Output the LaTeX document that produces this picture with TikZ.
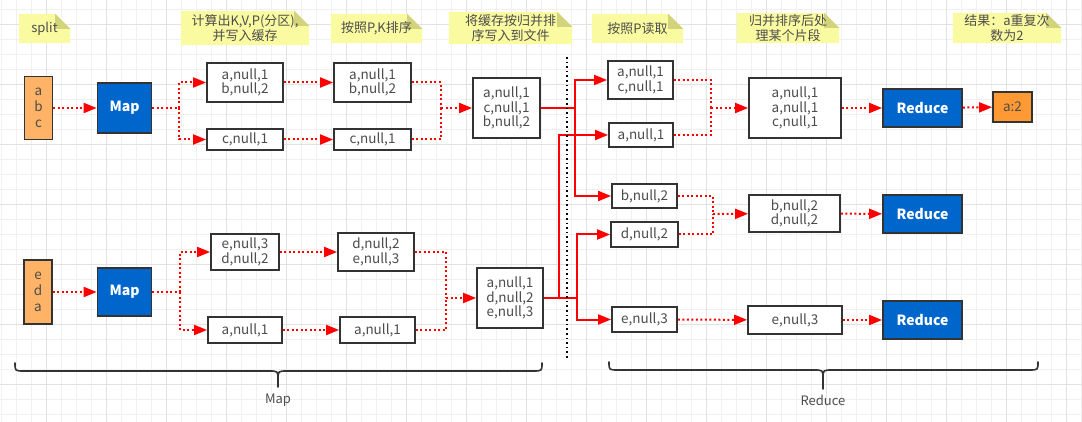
\documentclass[tikz,border=0pt]{standalone}
\usepackage{fontspec}
\setmainfont{Noto Sans CJK SC}
\usepackage{tikz}
\usetikzlibrary{arrows.meta}
\usetikzlibrary{backgrounds}
\definecolor{mapblue}{HTML}{0066CC}
\definecolor{inorange}{HTML}{FFB366}
\definecolor{resorange}{HTML}{FF9933}
\definecolor{memobg}{HTML}{FAFAA0}
\definecolor{memofold}{HTML}{D3D37B}
\definecolor{boxline}{HTML}{333333}
\definecolor{txtgray}{HTML}{4D4D4D}
\definecolor{gridfine}{HTML}{F0F0F0}
\definecolor{gridbold}{HTML}{E2E2E2}
\tikzset{kv/.style={draw=boxline,line width=1.8pt,fill=white,text=txtgray,
		align=center,inner sep=0pt,font=\fontsize{13.5}{14.5}\selectfont},
	task/.style={kv,fill=mapblue,text=white,font=\bfseries\fontsize{14}{16}\selectfont},
	chunk/.style={kv,fill=inorange,font=\fontsize{13.5}{16}\selectfont},
	result/.style={kv,fill=resorange},
	memo/.style={align=center,text=txtgray,inner sep=0pt,font=\fontsize{13}{14.5}\selectfont},
	dotwire/.style={red,line width=2pt,dash pattern=on 2pt off 2.5pt},
	wire/.style={red,line width=2pt},
	brace/.style={draw=boxline,line width=1.6pt,line cap=round},
	sep/.style={black,line width=1.6pt,dash pattern=on 1.6pt off 3pt}}
% yellow note with folded corner
\newcommand{\memofill}[1]{%
	\fill[memobg] (#1.south west) -- (#1.north west) -- ([xshift=-15pt]#1.north east)
		-- ([yshift=-15pt]#1.north east) -- (#1.south east) -- cycle;
	\fill[memofold] ([xshift=-15pt]#1.north east) -- ([xshift=-15pt,yshift=-15pt]#1.north east)
		-- ([yshift=-15pt]#1.north east) -- cycle;}

\begin{document}
\begin{tikzpicture}[x=1pt,y=-1pt,>={Triangle[length=13pt,width=10pt]}]
	\useasboundingbox (0,0) rectangle (1082,422);
	% notes
	\node[memo,minimum width=51,minimum height=29] (n1) at (44.5,28.5) {split};
	\node[memo,minimum width=128,minimum height=34] (n2) at (245,28) {计算出K,V,P(分区),\\并写入缓存};
	\node[memo,minimum width=91,minimum height=29] (n3) at (376.5,28.5) {按照P,K排序};
	\node[memo,minimum width=123,minimum height=32] (n4) at (510.5,28) {将缓存按归并排\\序写入到文件};
	\node[memo,minimum width=91,minimum height=29] (n5) at (637.5,28.5) {按照P读取};
	\node[memo,minimum width=102,minimum height=30] (n6) at (788,28) {归并排序后处\\理某个片段};
	\node[memo,minimum width=108,minimum height=30] (n7) at (1007,28) {结果：a重复次\\数为2};
	\begin{scope}[on background layer]
		\fill[white] (0,0) rectangle (1082,422);
		\foreach \gx in {0,...,72}
			\draw[gridfine,line width=0.8pt] ({1.7+15*\gx},0) -- ({1.7+15*\gx},422);
		\foreach \gy in {0,...,27}
			\draw[gridfine,line width=0.8pt] (0,{9.3+15*\gy}) -- (1082,{9.3+15*\gy});
		\foreach \gx in {0,...,17}
			\draw[gridbold,line width=0.8pt] ({46.7+60*\gx},0) -- ({46.7+60*\gx},422);
		\foreach \gy in {0,...,6}
			\draw[gridbold,line width=0.8pt] (0,{24.3+60*\gy}) -- (1082,{24.3+60*\gy});
		\memofill{n1}\memofill{n2}\memofill{n3}\memofill{n4}
		\memofill{n5}\memofill{n6}\memofill{n7}
	\end{scope}

	% map side
	\node[chunk,minimum width=28,minimum height=63] (in1) at (38.5,108) {a\\b\\c};
	\node[task,minimum width=54,minimum height=50] (map1) at (124.5,108) {Map};
	\node[kv,minimum width=76,minimum height=39] (k1a) at (245,82.5) {a,null,1\\b,null,2};
	\node[kv,minimum width=76,minimum height=21] (k1b) at (245,139.5) {c,null,1};
	\node[kv,minimum width=77,minimum height=39] (s1a) at (372.5,82.5) {a,null,1\\b,null,2};
	\node[kv,minimum width=77,minimum height=21] (s1b) at (372.5,139.5) {c,null,1};
	\node[kv,minimum width=67,minimum height=60] (m1) at (506.5,108) {a,null,1\\c,null,1\\b,null,2};

	\node[chunk,minimum width=28,minimum height=64] (in2) at (38,292) {e\\d\\a};
	\node[task,minimum width=54,minimum height=48] (map2) at (124.5,292) {Map};
	\node[kv,minimum width=68,minimum height=36] (k2a) at (245,252) {e,null,3\\d,null,2};
	\node[kv,minimum width=74,minimum height=26] (k2b) at (245,330) {a,null,1};
	\node[kv,minimum width=76,minimum height=38] (s2a) at (376,252) {d,null,2\\e,null,3};
	\node[kv,minimum width=75,minimum height=26] (s2b) at (377.5,330) {a,null,1};
	\node[kv,minimum width=66,minimum height=60] (m2) at (510,298) {a,null,1\\d,null,2\\e,null,3};

	% reduce side
	\node[kv,minimum width=65,minimum height=38] (r1a) at (640.5,80) {a,null,1\\c,null,1};
	\node[kv,minimum width=64,minimum height=24] (r1b) at (641,135) {a,null,1};
	\node[kv,minimum width=65,minimum height=24] (r2a) at (644.5,196) {b,null,2};
	\node[kv,minimum width=67,minimum height=25] (r2b) at (644.5,234.5) {d,null,2};
	\node[kv,minimum width=65,minimum height=25] (r3) at (644.5,319.5) {e,null,3};
	\node[kv,minimum width=92,minimum height=60] (q1) at (795,108) {a,null,1\\a,null,1\\c,null,1};
	\node[kv,minimum width=91,minimum height=37] (q2) at (794.5,213.5) {b,null,2\\d,null,2};
	\node[kv,minimum width=94,minimum height=28] (q3) at (795,320) {e,null,3};
	\node[task,minimum width=79,minimum height=38] (red1) at (922.5,108) {Reduce};
	\node[task,minimum width=79,minimum height=38] (red2) at (922.5,214) {Reduce};
	\node[task,minimum width=79,minimum height=38] (red3) at (922.5,320) {Reduce};
	\node[result,minimum width=39,minimum height=30] (res) at (1012.5,107) {a:2};

	% junction points
	\coordinate (j1) at (179,108);
	\coordinate (j2) at (180,292);
	\coordinate (g1) at (441,108);
	\coordinate (g2) at (446,298);
	\coordinate (c1) at (575,108);
	\coordinate (c2) at (559,298);
	\coordinate (c3) at (577,298);
	\coordinate (h1) at (711,108);
	\coordinate (h2) at (713,214);

	% dotted flows
	\draw[dotwire,->] (in1) -- (map1);
	\draw[dotwire] (map1) -- (j1);
	\draw[dotwire,->] (j1) |- (k1a);
	\draw[dotwire,->] (j1) |- (k1b);
	\draw[dotwire,->] (k1a) -- (s1a);
	\draw[dotwire,->] (k1b) -- (s1b);
	\draw[dotwire] (s1a) -| (g1);
	\draw[dotwire] (s1b) -| (g1);
	\draw[dotwire,->] (g1) -- (m1);

	\draw[dotwire,->] (in2) -- (map2);
	\draw[dotwire] (map2) -- (j2);
	\draw[dotwire,->] (j2) |- (k2a);
	\draw[dotwire,->] (j2) |- (k2b);
	\draw[dotwire,->] (k2a) -- (s2a);
	\draw[dotwire,->] (k2b) -- (s2b);
	\draw[dotwire] (s2a) -| (g2);
	\draw[dotwire] (s2b) -| (g2);
	\draw[dotwire,->] (g2) -- (m2);

	% shuffle by partition
	\draw[wire] (m1) -- (c1);
	\draw[wire,->] (c1) |- (r1a);
	\draw[wire,->] (c1) |- (r2a);
	\draw[wire] (m2) -- (c3);
	\draw[wire,->] (c2) |- (r1b);
	\draw[wire,->] (c3) |- (r2b);
	\draw[wire,->] (c3) |- (r3);

	\draw[dotwire] (r1a) -| (h1);
	\draw[dotwire] (r1b) -| (h1);
	\draw[dotwire,->] (h1) -- (q1);
	\draw[dotwire] (r2a) -| (h2);
	\draw[dotwire] (r2b) -| (h2);
	\draw[dotwire,->] (h2) -- (q2);
	\draw[dotwire,->] (r3) -- (q3);
	\draw[dotwire,->] (q1) -- (red1);
	\draw[dotwire,->] (q2) -- (red2);
	\draw[dotwire,->] (q3) -- (red3);
	\draw[dotwire,->] (red1) -- (res);

	\draw[sep] (567,57) -- (567,358);

	% braces
	\draw[brace] (15,363) .. controls (15,371) .. (24,371) -- (269,371)
		.. controls (278,371) .. (278,380) -- (278,387);
	\draw[brace] (278,380) .. controls (278,371) .. (287,371) -- (533,371)
		.. controls (542,371) .. (542,363);
	\node[memo] (mapsum) at (278,400) {Map};
	\draw[brace] (609,362) .. controls (609,370) .. (618,370) -- (814,370)
		.. controls (823,370) .. (823,379) -- (823,389);
	\draw[brace] (823,379) .. controls (823,370) .. (832,370) -- (1029,370)
		.. controls (1038,370) .. (1038,362);
	\node[memo] (redsum) at (823,400) {Reduce};
\end{tikzpicture}
\end{document}
